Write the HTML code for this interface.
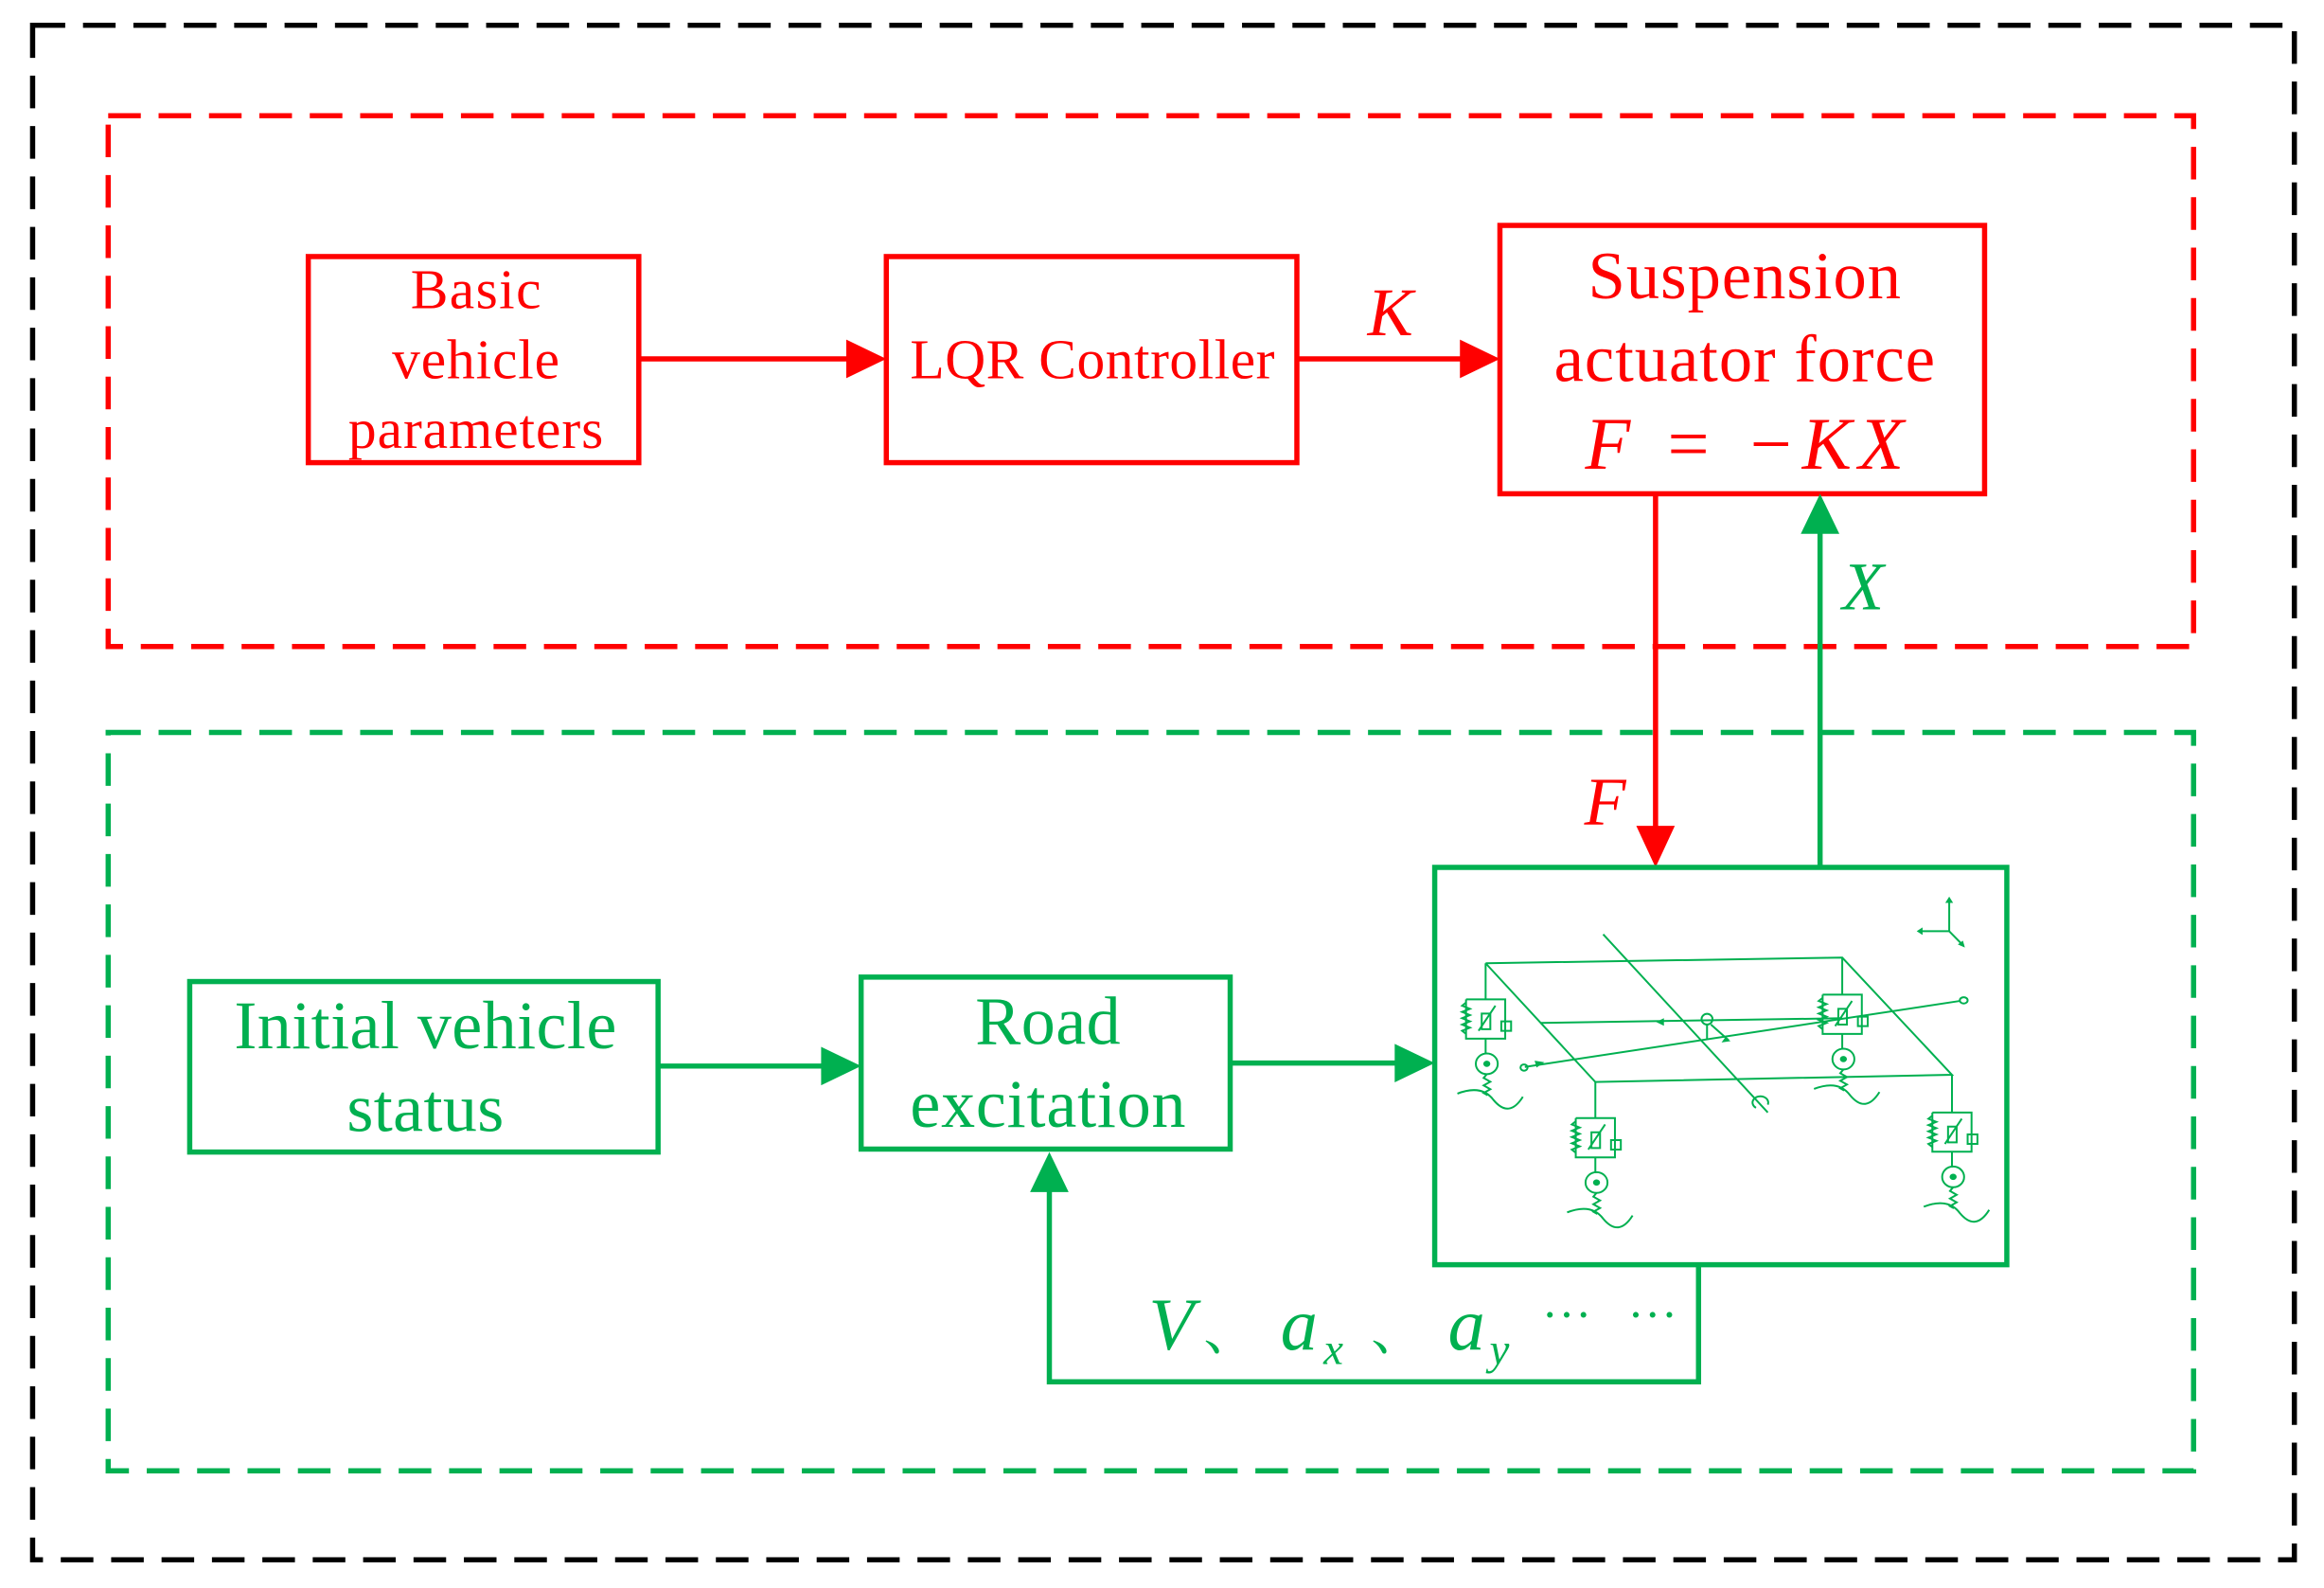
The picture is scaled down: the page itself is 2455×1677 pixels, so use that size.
<!DOCTYPE html>
<html><head><meta charset="utf-8"><style>
html,body{margin:0;padding:0;background:#fff;}
svg{display:block;}
text{font-family:"Liberation Serif","Noto Serif CJK SC",serif;}
</style></head><body>
<svg width="2455" height="1677" viewBox="0 0 1568 1071" xmlns="http://www.w3.org/2000/svg">
<rect x="0" y="0" width="1568" height="1071" fill="#fff"/>
<rect x="22" y="17" width="1526" height="1035" fill="none" stroke="#000" stroke-width="3.5" stroke-dasharray="22,12"/>
<rect x="73" y="78" width="1407" height="358" fill="none" stroke="#ff0000" stroke-width="3.5" stroke-dasharray="22,12"/>
<rect x="73" y="494" width="1407" height="498" fill="none" stroke="#00b050" stroke-width="3.5" stroke-dasharray="22,12"/>

<g fill="none" stroke="#ff0000" stroke-width="3.5">
<rect x="208" y="173" width="223" height="139"/>
<rect x="598" y="173" width="277" height="139"/>
<rect x="1012" y="152" width="327" height="181"/>
<line x1="431" y1="242" x2="575" y2="242"/>
<line x1="875" y1="242" x2="990" y2="242"/>
<line x1="1117" y1="333" x2="1117" y2="562"/>
</g>
<g fill="#ff0000">
<polygon points="598,242 571,229 571,255"/>
<polygon points="1012,242 985,229 985,255"/>
<polygon points="1117,585 1104,557 1130,557"/>
</g>
<g fill="#ff0000" text-anchor="middle" font-size="38">
<text x="321" y="208" textLength="88">Basic</text>
<text x="321" y="255" textLength="113">vehicle</text>
<text x="321" y="302" textLength="172">parameters</text>
<text x="737" y="255" textLength="246">LQR Controller</text>
<text x="1177" y="201" font-size="45" textLength="211">Suspension</text>
<text x="1177" y="257" font-size="45" textLength="257">actuator force</text>
<text x="1177" y="316" font-size="50" font-style="italic" textLength="215">F = −KX</text>
<text x="938" y="226" font-size="46" font-style="italic">K</text>
<text x="1083" y="556" font-size="46" font-style="italic">F</text>
</g>

<g fill="none" stroke="#00b050" stroke-width="3.5">
<rect x="128" y="662" width="316" height="115"/>
<rect x="581" y="659" width="249" height="116"/>
<rect x="968" y="585" width="386" height="268"/>
<line x1="444" y1="719" x2="558" y2="719"/>
<line x1="830" y1="717" x2="946" y2="717"/>
<line x1="1228" y1="585" x2="1228" y2="356"/>
<polyline points="1146,853 1146,932 708,932 708,800"/>
</g>
<g fill="#00b050">
<polygon points="581,719 554,706 554,732"/>
<polygon points="968,717 941,704 941,730"/>
<polygon points="1228,333 1215,360 1241,360"/>
<polygon points="708,777 695,804 721,804"/>
</g>
<g fill="#00b050" text-anchor="middle" font-size="46">
<text x="287" y="707" textLength="258">Initial vehicle</text>
<text x="287" y="763" textLength="106">status</text>
<text x="707" y="704" textLength="98">Road</text>
<text x="707" y="760" textLength="186">excitation</text>
<text x="1257" y="411" font-style="italic" font-size="46">X</text>
</g>
<g fill="#00b050" font-style="italic">
<text x="775" y="910" font-size="50">V</text>
<text x="812" y="910" font-size="36" font-style="normal">、</text>
<text x="864" y="910" font-size="50">a</text>
<text x="893" y="920" font-size="30">x</text>
<text x="925" y="910" font-size="36" font-style="normal">、</text>
<text x="977" y="910" font-size="50">a</text>
<text x="1005" y="920" font-size="30">y</text>
<text x="1040" y="900" font-size="34" font-style="normal" textLength="92">⋯ ⋯</text>
</g>

<g transform="translate(957.4,575.5) scale(0.2644,0.2119)" fill="none" stroke="#00b050" stroke-width="2">
<polyline vector-effect="non-scaling-stroke" points="170,350 1080,332 1360,705 450,728 170,350"/>
<line vector-effect="non-scaling-stroke" x1="170" y1="350" x2="170" y2="465"/>
<line vector-effect="non-scaling-stroke" x1="1080" y1="332" x2="1080" y2="450"/>
<line vector-effect="non-scaling-stroke" x1="450" y1="728" x2="450" y2="843"/>
<line vector-effect="non-scaling-stroke" x1="1360" y1="705" x2="1360" y2="825"/>
<line vector-effect="non-scaling-stroke" x1="470" y1="258" x2="890" y2="825"/>
<line vector-effect="non-scaling-stroke" x1="310" y1="540" x2="1080" y2="525"/>
<line vector-effect="non-scaling-stroke" x1="270" y1="680" x2="1380" y2="470"/>
<ellipse vector-effect="non-scaling-stroke" cx="1390" cy="468" rx="10" ry="10"/>
<ellipse vector-effect="non-scaling-stroke" cx="735" cy="528" rx="14" ry="17"/>
<line vector-effect="non-scaling-stroke" x1="735" y1="545" x2="735" y2="590"/>
<line vector-effect="non-scaling-stroke" x1="745" y1="545" x2="790" y2="595"/>
<ellipse vector-effect="non-scaling-stroke" cx="268" cy="682" rx="9" ry="10"/>
<path vector-effect="non-scaling-stroke" d="M860,810 A20,20 0 1 1 890,800"/>
<line vector-effect="non-scaling-stroke" x1="1353" y1="248" x2="1353" y2="145"/>
<line vector-effect="non-scaling-stroke" x1="1353" y1="248" x2="1278" y2="248"/>
<line vector-effect="non-scaling-stroke" x1="1353" y1="248" x2="1390" y2="295"/>
</g>
<g fill="#00b050" transform="translate(957.4,575.5) scale(0.2644,0.2119)">
<polygon points="1353,138 1343,158 1363,158"/>
<polygon points="1270,248 1285,236 1285,260"/>
<polygon points="1393,300 1375,290 1388,278"/>
<polygon points="605,537 625,525 625,549"/>
<polygon points="795,598 772,602 782,585"/>
<polygon points="320,665 295,660 300,682"/>
</g>
<g fill="none" stroke="#00b050" stroke-width="2">
<g transform="translate(957.4,575.5) scale(0.2644,0.2119)">
<g id="u1" transform="translate(170,465)">
<polyline vector-effect="non-scaling-stroke" points="-50,0 50,0 50,125 -50,125 -50,0"/>
<polyline vector-effect="non-scaling-stroke" points="-50,10 -60,20 -40,30 -60,40 -40,50 -60,60 -40,70 -60,80 -40,90 -60,100 -50,110"/>
<rect vector-effect="non-scaling-stroke" x="-10" y="45" width="22" height="50"/>
<line vector-effect="non-scaling-stroke" x1="-18" y1="100" x2="25" y2="20"/>
<rect vector-effect="non-scaling-stroke" x="40" y="70" width="25" height="30"/>
<line vector-effect="non-scaling-stroke" x1="0" y1="125" x2="0" y2="175"/>
<ellipse vector-effect="non-scaling-stroke" cx="3" cy="205" rx="28" ry="33"/>
<ellipse cx="3" cy="205" rx="8" ry="9" fill="#00b050"/>
<polyline vector-effect="non-scaling-stroke" points="3,238 -5,250 12,262 -5,274 12,286 -5,298 5,305"/>
<path vector-effect="non-scaling-stroke" d="M-72,300 Q-10,270 20,320 Q60,380 95,310"/>
</g>
<use href="#u1" transform="translate(910,-15)"/>
<use href="#u1" transform="translate(280,378)"/>
<use href="#u1" transform="translate(1190,360)"/>
</g>
</g>
</svg>
</body></html>
